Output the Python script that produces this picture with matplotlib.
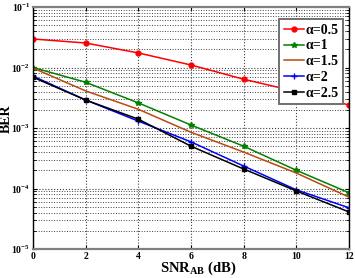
import matplotlib
matplotlib.use("Agg")
import matplotlib.pyplot as plt
from matplotlib.ticker import LogLocator, NullFormatter, FixedLocator

plt.rcParams['font.family'] = ['Liberation Serif', 'DejaVu Serif']
plt.rcParams['mathtext.fontset'] = 'custom'
plt.rcParams['mathtext.rm'] = 'Liberation Serif:bold'
plt.rcParams['mathtext.bf'] = 'Liberation Serif:bold'
plt.rcParams['mathtext.it'] = 'Liberation Serif:bold'

snr = [0, 2, 4, 6, 8, 10, 12]
ber_05 = [0.0296, 0.0254, 0.0174, 0.011, 0.0064, 0.0040, 0.0024]
ber_1 = [0.0100, 0.0057, 0.0026, 0.00112, 0.00050, 0.00020, 0.000085]
ber_15 = [0.0098, 0.0041, 0.00204, 0.00085, 0.00040, 0.00018, 0.000072]
ber_2 = [0.0072, 0.0029, 0.0013, 0.00059, 0.000235, 0.000095, 0.000048]
ber_25 = [0.0069, 0.0029, 0.00140, 0.00050, 0.00021, 0.000091, 0.000041]
labels = ['α=0.5', 'α=1', 'α=1.5', 'α=2', 'α=2.5']

W, H = 355, 278
fig = plt.figure(figsize=(W / 100, H / 100), dpi=100)
ax = fig.add_axes([33 / W, 1 - 249 / H, (349 - 33) / W, (249 - 7) / H])

ax.semilogy(snr, ber_05, color='#ff0000', marker='o', ms=3.5, lw=1.1, label=labels[0])
ax.semilogy(snr, ber_1, color='#008000', marker='*', ms=4, lw=1.1, label=labels[1])
ax.semilogy(snr, ber_15, color='#b84a10', lw=1.1, label=labels[2])
ax.semilogy(snr, ber_2, color='#0000ff', marker='+', ms=5, lw=1.1, label=labels[3])
ax.semilogy(snr, ber_25, color='#000000', marker='s', ms=3, lw=1.1, label=labels[4])

ax.set_xlim(0, 12)
ax.set_ylim(1e-5, 1e-1)
ax.xaxis.set_major_locator(FixedLocator(snr))
ax.yaxis.set_major_locator(LogLocator(base=10, numticks=10))
ax.yaxis.set_minor_locator(LogLocator(base=10, subs=range(2, 10), numticks=10))
ax.yaxis.set_minor_formatter(NullFormatter())

ax.grid(True, which='major', linestyle=':', color='#404040', lw=0.8)
ax.grid(True, which='minor', axis='y', linestyle=':', color='#404040', lw=0.7)

ax.tick_params(which='both', direction='in', labelsize=7, top=True, right=True, pad=2)
ax.tick_params(which='minor', length=2)
ax.tick_params(which='major', length=3)
for lab in ax.get_xticklabels() + ax.get_yticklabels():
    lab.set_fontweight('bold')
for name, s in ax.spines.items():
    s.set_color('#808080' if name in ('top', 'bottom') else '#000000')
    s.set_linewidth(1.6 if name in ('top', 'bottom') else 1.0)

fig.text(198 / W, 1 - 268 / H, r'SNR$_{\mathbf{AB}}$ (dB)', fontsize=10.5, fontweight='bold',
         ha='center', va='center')
fig.text(6 / W, 1 - 119 / H, 'BER', fontsize=10, fontweight='bold', rotation=90,
         ha='center', va='center')

leg = ax.legend(loc='upper right', bbox_to_anchor=(0.981, 0.950),
                prop={'weight': 'bold', 'size': 10}, fancybox=False, framealpha=1,
                edgecolor='#707070', handlelength=1.45, borderpad=0.33, labelspacing=0.2,
                handletextpad=0.1, borderaxespad=0.0)
leg.get_frame().set_linewidth(1.4)

fig.savefig('out.png', dpi=100)
